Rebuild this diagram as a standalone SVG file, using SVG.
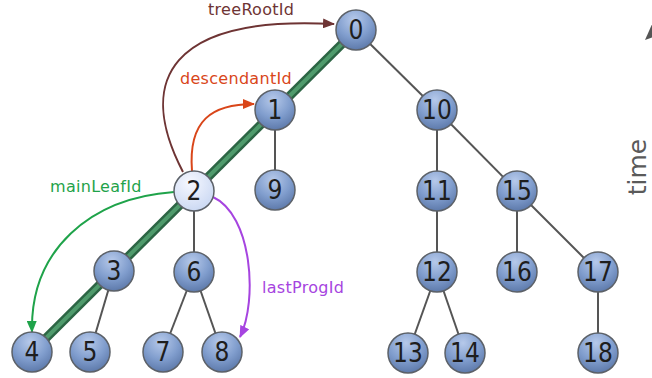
<svg xmlns="http://www.w3.org/2000/svg" width="652" height="378" viewBox="0 0 652 378">
<style>
.edge{stroke:#555;stroke-width:2;fill:none}
.node circle{fill:url(#blue);stroke:#5c6168;stroke-width:1.5}
.node text{font-family:"DejaVu Sans",sans-serif;font-stretch:condensed;font-size:26px;fill:#1e1e1e;text-anchor:middle}
.lbl{font-family:"DejaVu Sans",sans-serif;font-size:16px;letter-spacing:0.3px}
.ptr{fill:none;stroke-width:2}
</style>
<defs>
<radialGradient id="blue" cx="0.45" cy="0.25" r="0.8">
<stop offset="0" stop-color="#b6c9ea"/>
<stop offset="0.55" stop-color="#809dcd"/>
<stop offset="1" stop-color="#5874a5"/>
</radialGradient>
<radialGradient id="light" cx="0.4" cy="0.3" r="0.75">
<stop offset="0" stop-color="#f6f8ff"/>
<stop offset="1" stop-color="#c9d7f2"/>
</radialGradient>
<marker id="aBrown" markerUnits="userSpaceOnUse" markerWidth="12" markerHeight="10" refX="11" refY="5" orient="auto"><path d="M0,0 L12,5 L0,10 z" fill="#6e3434"/></marker>
<marker id="aOrange" markerUnits="userSpaceOnUse" markerWidth="12" markerHeight="10" refX="11" refY="5" orient="auto"><path d="M0,0 L12,5 L0,10 z" fill="#d9461a"/></marker>
<marker id="aGreen" markerUnits="userSpaceOnUse" markerWidth="12" markerHeight="10" refX="11" refY="5" orient="auto"><path d="M0,0 L12,5 L0,10 z" fill="#1fa34a"/></marker>
<marker id="aPurple" markerUnits="userSpaceOnUse" markerWidth="12" markerHeight="10" refX="11" refY="5" orient="auto"><path d="M0,0 L12,5 L0,10 z" fill="#a644e0"/></marker>
</defs>
<rect width="652" height="378" fill="#ffffff"/>
<g id="connectors">
<line class="edge" x1="356" y1="30" x2="437" y2="110"/>
<line class="edge" x1="275" y1="110" x2="275" y2="190"/>
<line class="edge" x1="437" y1="110" x2="437" y2="191"/>
<line class="edge" x1="437" y1="110" x2="517" y2="191"/>
<line class="edge" x1="437" y1="191" x2="437" y2="272"/>
<line class="edge" x1="437" y1="272" x2="408" y2="353"/>
<line class="edge" x1="437" y1="272" x2="465" y2="353"/>
<line class="edge" x1="517" y1="191" x2="517" y2="272"/>
<line class="edge" x1="517" y1="191" x2="598" y2="272"/>
<line class="edge" x1="598" y1="272" x2="598" y2="353"/>
<line class="edge" x1="194" y1="191" x2="194" y2="272"/>
<line class="edge" x1="114" y1="271" x2="90" y2="352"/>
<line class="edge" x1="194" y1="272" x2="163" y2="352"/>
<line class="edge" x1="194" y1="272" x2="222" y2="352"/>
<line x1="356" y1="30" x2="32" y2="352" stroke="#2c6544" stroke-width="9"/>
<line x1="356" y1="30" x2="32" y2="352" stroke="#4f9b6c" stroke-width="4"/>
<path class="ptr" stroke="#6e3434" d="M183,172 C135,80 170,15 334,24" marker-end="url(#aBrown)"/>
<path class="ptr" stroke="#d9461a" d="M192,171 C188,120 212,104 254,104" marker-end="url(#aOrange)"/>
<path class="ptr" stroke="#1fa34a" d="M174,192 C90,198 30,250 32,332" marker-end="url(#aGreen)"/>
<path class="ptr" stroke="#a644e0" d="M213,197 C252,215 258,300 240,337" marker-end="url(#aPurple)"/>
<polygon points="653,22 645,40 653,37" fill="#555"/>
</g>
<text class="lbl" x="208" y="15" fill="#6e3434">treeRootId</text>
<text class="lbl" x="180" y="84" fill="#d9461a">descendantId</text>
<text class="lbl" x="50" y="192" fill="#1fa34a">mainLeafId</text>
<text class="lbl" x="262" y="293" fill="#a644e0">lastProgId</text>
<text x="0" y="0" transform="translate(646,167) rotate(-90)" font-family="DejaVu Sans,sans-serif" font-size="25" fill="#5a5a5a" text-anchor="middle">time</text>
<g id="n0" class="node"><circle cx="356" cy="30" r="20"/><text x="356" y="39">0</text></g>
<g id="n1" class="node"><circle cx="275" cy="110" r="20"/><text x="275" y="119">1</text></g>
<g id="n2" class="node"><circle cx="194" cy="191" r="20" style="fill:url(#light)"/><text x="194" y="200">2</text></g>
<g id="n3" class="node"><circle cx="114" cy="271" r="20"/><text x="114" y="280">3</text></g>
<g id="n4" class="node"><circle cx="32" cy="352" r="20"/><text x="32" y="361">4</text></g>
<g id="n5" class="node"><circle cx="90" cy="352" r="20"/><text x="90" y="361">5</text></g>
<g id="n6" class="node"><circle cx="194" cy="272" r="20"/><text x="194" y="281">6</text></g>
<g id="n7" class="node"><circle cx="163" cy="352" r="20"/><text x="163" y="361">7</text></g>
<g id="n8" class="node"><circle cx="222" cy="352" r="20"/><text x="222" y="361">8</text></g>
<g id="n9" class="node"><circle cx="275" cy="190" r="20"/><text x="275" y="199">9</text></g>
<g id="n10" class="node"><circle cx="437" cy="110" r="20"/><text x="437" y="119">10</text></g>
<g id="n11" class="node"><circle cx="437" cy="191" r="20"/><text x="437" y="200">11</text></g>
<g id="n12" class="node"><circle cx="437" cy="272" r="20"/><text x="437" y="281">12</text></g>
<g id="n13" class="node"><circle cx="408" cy="353" r="20"/><text x="408" y="362">13</text></g>
<g id="n14" class="node"><circle cx="465" cy="353" r="20"/><text x="465" y="362">14</text></g>
<g id="n15" class="node"><circle cx="517" cy="191" r="20"/><text x="517" y="200">15</text></g>
<g id="n16" class="node"><circle cx="517" cy="272" r="20"/><text x="517" y="281">16</text></g>
<g id="n17" class="node"><circle cx="598" cy="272" r="20"/><text x="598" y="281">17</text></g>
<g id="n18" class="node"><circle cx="598" cy="353" r="20"/><text x="598" y="362">18</text></g>
</svg>
